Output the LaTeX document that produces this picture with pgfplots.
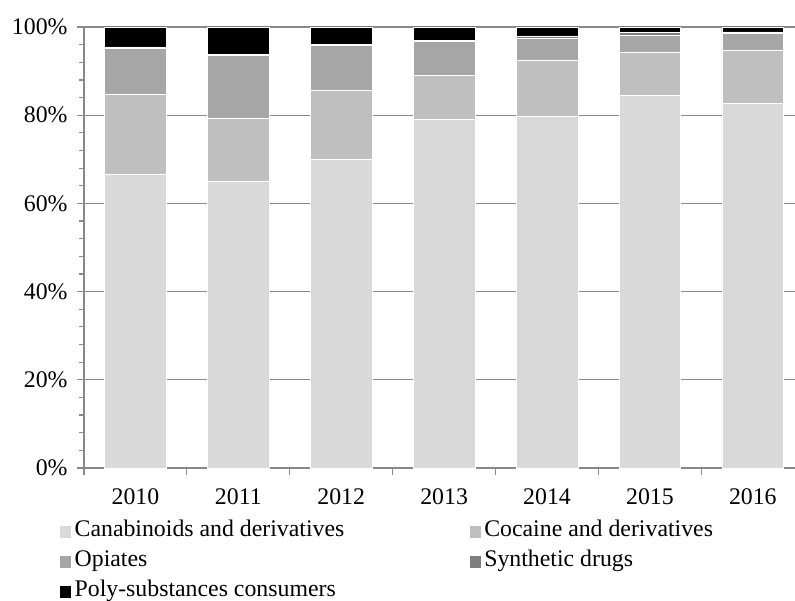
\documentclass[border=0pt]{standalone}
\usepackage{fontspec}
\setmainfont{Liberation Serif}
\usepackage{pgfplots}
\pgfplotsset{compat=1.18}
\definecolor{canab}{HTML}{D9D9D9}
\definecolor{cocaine}{HTML}{BFBFBF}
\definecolor{opiates}{HTML}{A6A6A6}
\definecolor{synth}{HTML}{7F7F7F}
\definecolor{poly}{HTML}{000000}
\definecolor{axisgray}{HTML}{898989}
\begin{document}
\begin{tikzpicture}[font=\fontsize{23.8bp}{28bp}\selectfont]
\begin{axis}[
  at={(0,0)}, anchor=south west,
  scale only axis, width=711bp, height=441bp,
  ybar stacked, bar width=0.6,
  xmin=-0.5, xmax=6.41, ymin=0, ymax=100,
  axis x line=bottom, axis y line=left,
  axis line style={-, draw=axisgray, line width=1.2bp},
  tick style={draw=axisgray, line width=1.2bp},
  tick align=outside,
  major tick length=7bp, minor tick length=5bp,
  xtick={-0.5,0.5,...,5.5}, xticklabels={},
  extra x ticks={0,1,2,3,4,5,6},
  extra x tick labels={2010,2011,2012,2013,2014,2015,2016},
  extra x tick style={major tick length=0pt, xticklabel style={yshift=-17bp}},
  ytick={0,20,...,100}, minor y tick num=4,
  yticklabel={\pgfmathprintnumber{\tick}\%},
  /pgf/number format/assume math mode=true,
  yticklabel style={xshift=-6bp},
  ymajorgrids, major grid style={draw=axisgray, line width=1.2bp},
  legend columns=2,
  legend cell align=left,
  legend style={draw=none, fill=none, at={(-0.0338,-0.1105)}, anchor=north west,
    inner sep=0pt, row sep=0bp,
    nodes={inner sep=1.5bp, text height=18bp, text depth=9bp},
    /tikz/every odd column/.append style={column sep=2bp},
    /tikz/every even column/.append style={column sep=124bp}},
  legend image code/.code={\fill[#1, draw=none] (0bp,-6bp) rectangle (11bp,6bp);},
]
% cannabinoids
\addplot[fill=canab, draw=white, line width=0.6bp] coordinates
  {(0,66.7) (1,65.1) (2,70.1) (3,79.1) (4,79.8) (5,84.4) (6,82.7)};
% cocaine
\addplot[fill=cocaine, draw=white, line width=0.6bp] coordinates
  {(0,18.1) (1,14.2) (2,15.6) (3,10.0) (4,12.6) (5,9.9) (6,12.1)};
% opiates
\addplot[fill=opiates, draw=white, line width=0.6bp] coordinates
  {(0,10.4) (1,14.3) (2,10.1) (3,7.7) (4,5.0) (5,3.8) (6,3.8)};
% synthetic drugs
\addplot[fill=synth, draw=white, line width=0.6bp] coordinates
  {(0,0.3) (1,0.2) (2,0.2) (3,0.2) (4,0.6) (5,0.7) (6,0.3)};
% poly-substances
\addplot[fill=poly, draw=white, line width=0.6bp] coordinates
  {(0,4.5) (1,6.2) (2,4.0) (3,3.0) (4,2.0) (5,1.2) (6,1.1)};
\legend{Canabinoids and derivatives, Cocaine and derivatives, Opiates, Synthetic drugs, Poly-substances consumers}
\end{axis}
\pgfresetboundingbox
\path[use as bounding box] (-84bp,-133bp) rectangle (711bp,468bp);
\end{tikzpicture}
\end{document}
